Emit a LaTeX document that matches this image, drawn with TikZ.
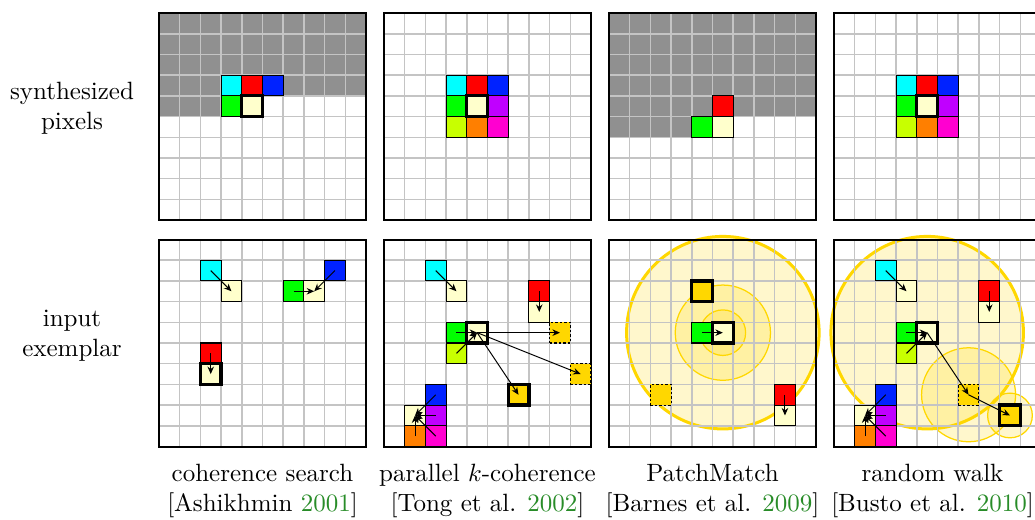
\documentclass[tikz,border=0pt]{standalone}
\usetikzlibrary{arrows.meta}
\definecolor{pcyan}{HTML}{00FFFF}
\definecolor{pred}{HTML}{FF0000}
\definecolor{pblue}{HTML}{0022FF}
\definecolor{pgreen}{HTML}{00FF00}
\definecolor{pcream}{HTML}{FFFFCC}
\definecolor{ppurple}{HTML}{C000FF}
\definecolor{plime}{HTML}{C8FF00}
\definecolor{porange}{HTML}{FF7F00}
\definecolor{pmagenta}{HTML}{FF00D0}
\definecolor{pgold}{HTML}{FFD700}
\definecolor{psynth}{HTML}{909090}
\definecolor{pgrid}{HTML}{C4C4C4}
\definecolor{citegreen}{RGB}{40,140,40}
\begin{document}
\begin{tikzpicture}[x=8.28pt,y=-8.28pt,
  gridl/.style={draw=pgrid,line width=0.6pt,xstep=8.28pt,ystep=8.28pt},
  frame/.style={draw=black,line width=0.8pt},
  px/.style={draw=black,line width=0.45pt,minimum size=8.28pt,inner sep=0pt,outer sep=0pt},
  cur/.style={px,line width=1.3pt},
  dsh/.style={px,dash pattern=on 1pt off 0.8pt},
  arr/.style={-{Stealth[length=3pt,width=2.6pt]},line width=0.4pt},
  bigring/.style={draw=pgold,line width=1.2pt,fill=pgold,fill opacity=0.2},
  ring/.style={draw=pgold,line width=0.5pt,fill=pgold,fill opacity=0.2},
  lbl/.style={align=center,font=\normalsize}]
\useasboundingbox (0,0) rectangle (50,25.12);

% left labels
\node[lbl] (lsyn) at (3.48,5.25) {synthesized\\pixels};
\node[lbl] (linp) at (3.48,16.23) {input\\exemplar};

% ---------------- top row ----------------
\begin{scope}[shift={(7.68,0.63)}]
\fill[psynth] (0,0) rectangle (10,4) (0,4) rectangle (3,5);
\draw[gridl] (0,0) grid (10,10);
\draw[frame] (0,0) rectangle (10,10);
\node[px,fill=pcyan] (t1c) at (3.5,3.5) {};
\node[px,fill=pred] (t1r) at (4.5,3.5) {};
\node[px,fill=pblue] (t1b) at (5.5,3.5) {};
\node[px,fill=pgreen] (t1g) at (3.5,4.5) {};
\node[cur,fill=pcream] (t1p) at (4.5,4.5) {};
\end{scope}

\begin{scope}[shift={(18.55,0.63)}]
\draw[gridl] (0,0) grid (10,10);
\draw[frame] (0,0) rectangle (10,10);
\node[px,fill=pcyan] (t2c) at (3.5,3.5) {};
\node[px,fill=pred] (t2r) at (4.5,3.5) {};
\node[px,fill=pblue] (t2b) at (5.5,3.5) {};
\node[px,fill=pgreen] (t2g) at (3.5,4.5) {};
\node[px,fill=ppurple] (t2u) at (5.5,4.5) {};
\node[px,fill=plime] (t2l) at (3.5,5.5) {};
\node[px,fill=porange] (t2o) at (4.5,5.5) {};
\node[px,fill=pmagenta] (t2m) at (5.5,5.5) {};
\node[cur,fill=pcream] (t2p) at (4.5,4.5) {};
\end{scope}

\begin{scope}[shift={(29.42,0.63)}]
\fill[psynth] (0,0) rectangle (10,5) (0,5) rectangle (4,6);
\draw[gridl] (0,0) grid (10,10);
\draw[frame] (0,0) rectangle (10,10);
\node[px,fill=pred] (t3r) at (5.5,4.5) {};
\node[px,fill=pgreen] (t3g) at (4.5,5.5) {};
\node[px,fill=pcream] (t3p) at (5.5,5.5) {};
\end{scope}

\begin{scope}[shift={(40.29,0.63)}]
\draw[gridl] (0,0) grid (10,10);
\draw[frame] (0,0) rectangle (10,10);
\node[px,fill=pcyan] (t4c) at (3.5,3.5) {};
\node[px,fill=pred] (t4r) at (4.5,3.5) {};
\node[px,fill=pblue] (t4b) at (5.5,3.5) {};
\node[px,fill=pgreen] (t4g) at (3.5,4.5) {};
\node[px,fill=ppurple] (t4u) at (5.5,4.5) {};
\node[px,fill=plime] (t4l) at (3.5,5.5) {};
\node[px,fill=porange] (t4o) at (4.5,5.5) {};
\node[px,fill=pmagenta] (t4m) at (5.5,5.5) {};
\node[cur,fill=pcream] (t4p) at (4.5,4.5) {};
\end{scope}

% ---------------- bottom row ----------------
% coherence search
\begin{scope}[shift={(7.68,11.57)}]
\draw[gridl] (0,0) grid (10,10);
\draw[frame] (0,0) rectangle (10,10);
\node[px,fill=pcyan] (b1c) at (2.5,1.5) {};
\node[px,fill=pcream] (b1cp) at (3.5,2.5) {};
\node[px,fill=pgreen] (b1g) at (6.5,2.5) {};
\node[px,fill=pcream] (b1gp) at (7.5,2.5) {};
\node[px,fill=pblue] (b1b) at (8.5,1.5) {};
\node[px,fill=pred] (b1r) at (2.5,5.5) {};
\node[cur,fill=pcream] (b1rp) at (2.5,6.5) {};
\draw[arr] (b1c.center) -- (b1cp.center);
\draw[arr] (b1g.center) -- (b1gp.center);
\draw[arr] (b1b.center) -- (b1gp.center);
\draw[arr] (b1r.center) -- (b1rp.center);
\end{scope}

% parallel k-coherence
\begin{scope}[shift={(18.55,11.57)}]
\draw[gridl] (0,0) grid (10,10);
\draw[frame] (0,0) rectangle (10,10);
\node[px,fill=pcyan] (b2c) at (2.5,1.5) {};
\node[px,fill=pcream] (b2cp) at (3.5,2.5) {};
\node[px,fill=pred] (b2r) at (7.5,2.5) {};
\node[px,fill=pcream] (b2rp) at (7.5,3.5) {};
\node[px,fill=pgreen] (b2g) at (3.5,4.5) {};
\node[px,fill=plime] (b2l) at (3.5,5.5) {};
\node[cur,fill=pcream] (b2p) at (4.5,4.5) {};
\node[dsh,fill=pgold] (b2k1) at (8.5,4.5) {};
\node[dsh,fill=pgold] (b2k2) at (9.5,6.5) {};
\node[cur,fill=pgold] (b2k3) at (6.5,7.5) {};
\node[px,fill=pblue] (b2b) at (2.5,7.5) {};
\node[px,fill=pcream] (b2q) at (1.5,8.5) {};
\node[px,fill=ppurple] (b2u) at (2.5,8.5) {};
\node[px,fill=porange] (b2o) at (1.5,9.5) {};
\node[px,fill=pmagenta] (b2m) at (2.5,9.5) {};
\draw[arr] (b2c.center) -- (b2cp.center);
\draw[arr] (b2r.center) -- (b2rp.center);
\draw[arr] (b2g.center) -- (b2p.center);
\draw[arr] (b2l.center) -- (b2p.center);
\draw[arr] (b2p.center) -- (b2k1.center);
\draw[arr] (b2p.center) -- (b2k2.center);
\draw[arr] (b2p.center) -- (b2k3.center);
\draw[arr] (b2b.center) -- (b2q.center);
\draw[arr] (b2u.center) -- (b2q.center);
\draw[arr] (b2o.center) -- (b2q.center);
\draw[arr] (b2m.center) -- (b2q.center);
\end{scope}

% PatchMatch
\begin{scope}[shift={(29.42,11.57)}]
\coordinate (b3o) at (5.5,4.5);
\draw[bigring] (b3o) circle (4.65);
\draw[ring] (b3o) circle (2.3);
\draw[ring] (b3o) circle (1.1);
\draw[gridl] (0,0) grid (10,10);
\draw[frame] (0,0) rectangle (10,10);
\node[cur,fill=pgold] (b3k1) at (4.5,2.5) {};
\node[dsh,fill=pgold] (b3k2) at (2.5,7.5) {};
\node[px,fill=pred] (b3r) at (8.5,7.5) {};
\node[px,fill=pcream] (b3rp) at (8.5,8.5) {};
\node[px,fill=pgreen] (b3g) at (4.5,4.5) {};
\node[cur,fill=pcream] (b3p) at (b3o) {};
\draw[arr] (b3g.center) -- (b3p.center);
\draw[arr] (b3r.center) -- (b3rp.center);
\end{scope}

% random walk
\begin{scope}[shift={(40.29,11.57)}]
\coordinate (b4o) at (4.5,4.5);
\coordinate (b4s) at (6.5,7.5);
\coordinate (b4t) at (8.5,8.5);
\draw[bigring] (b4o) circle (4.65);
\draw[ring] (b4s) circle (2.27);
\draw[ring] (b4t) circle (1.08);
\draw[gridl] (0,0) grid (10,10);
\draw[frame] (0,0) rectangle (10,10);
\node[px,fill=pcyan] (b4c) at (2.5,1.5) {};
\node[px,fill=pcream] (b4cp) at (3.5,2.5) {};
\node[px,fill=pred] (b4r) at (7.5,2.5) {};
\node[px,fill=pcream] (b4rp) at (7.5,3.5) {};
\node[px,fill=pgreen] (b4g) at (3.5,4.5) {};
\node[px,fill=plime] (b4l) at (3.5,5.5) {};
\node[cur,fill=pcream] (b4p) at (b4o) {};
\node[dsh,fill=pgold] (b4k1) at (b4s) {};
\node[cur,fill=pgold] (b4k2) at (b4t) {};
\node[px,fill=pblue] (b4b) at (2.5,7.5) {};
\node[px,fill=pcream] (b4q) at (1.5,8.5) {};
\node[px,fill=ppurple] (b4u) at (2.5,8.5) {};
\node[px,fill=porange] (b4o2) at (1.5,9.5) {};
\node[px,fill=pmagenta] (b4m) at (2.5,9.5) {};
\draw[arr] (b4c.center) -- (b4cp.center);
\draw[arr] (b4r.center) -- (b4rp.center);
\draw[arr] (b4g.center) -- (b4p.center);
\draw[arr] (b4l.center) -- (b4p.center);
\draw[arr] (b4p.center) -- (b4k1.center);
\draw[arr] (b4k1.center) -- (b4k2.center);
\draw[arr] (b4b.center) -- (b4q.center);
\draw[arr] (b4u.center) -- (b4q.center);
\draw[arr] (b4o2.center) -- (b4q.center);
\draw[arr] (b4m.center) -- (b4q.center);
\end{scope}

% captions
\node[lbl] (cap1) at (12.68,23.72) {coherence search\\{}[Ashikhmin \textcolor{citegreen}{2001}]};
\node[lbl] (cap2) at (23.55,23.72) {parallel $k$-coherence\\{}[Tong et al. \textcolor{citegreen}{2002}]};
\node[lbl] (cap3) at (34.42,23.72) {PatchMatch\\{}[Barnes et al. \textcolor{citegreen}{2009}]};
\node[lbl] (cap4) at (45.05,23.72) {random walk\\{}[Busto et al. \textcolor{citegreen}{2010}]};
\end{tikzpicture}
\end{document}
